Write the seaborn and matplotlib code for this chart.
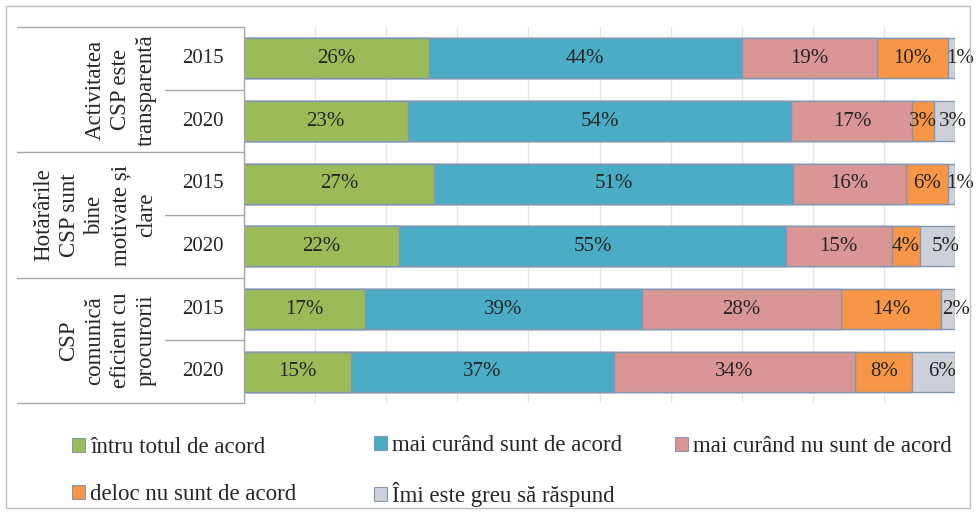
import numpy as np
import pandas as pd
import matplotlib
matplotlib.use("Agg")
import matplotlib.pyplot as plt
import matplotlib.transforms as mtransforms
from matplotlib.patches import Patch, Rectangle
import seaborn as sns

# data (one value per bar, top to bottom)
groups = ["Activitatea\nCSP este\ntransparentă",
          "Hotărârile\nCSP sunt\nbine\nmotivate și\nclare",
          "CSP\ncomunică\neficient cu\nprocurorii"]
years = ["2015", "2020"]
categories = ["întru totul de acord", "mai curând sunt de acord",
              "mai curând nu sunt de acord", "deloc nu sunt de acord",
              "Îmi este greu să răspund"]
acord_total = [26, 23, 27, 22, 17, 15]
acord_mai = [44, 54, 51, 55, 39, 37]
nu_mai = [19, 17, 16, 15, 28, 34]
deloc = [10, 3, 6, 4, 14, 8]
greu = [1, 3, 1, 5, 2, 6]

colors = ["#9BBB59", "#4BACC6", "#DA9694", "#F79646", "#CDD0D8"]
edge = "#8497B0"
txt = "#262626"

sns.set_style("white")
plt.rcParams["font.family"] = ["Liberation Serif", "DejaVu Serif"]

rows = [g.replace("\n", " ") + " " + y for g in groups for y in years]
values = np.array([acord_total, acord_mai, nu_mai, deloc, greu]).T
share = values / values.sum(axis=1, keepdims=True)  # 100% stacked
cum = share.cumsum(axis=1)

fig = plt.figure(figsize=(9.76, 5.14), dpi=100)
ax = fig.add_axes([244 / 976, 1 - 403 / 514, 711 / 976, 376 / 514])

# stacked bars: draw cumulative totals from longest to shortest
for k in reversed(range(len(categories))):
    df = pd.DataFrame({"row": rows, "val": cum[:, k]})
    sns.barplot(data=df, x="val", y="row", orient="h", color=colors[k],
                saturation=1, width=0.64, edgecolor=edge, linewidth=1,
                errorbar=None, ax=ax)

# value labels (last segment's label nudged right, like the original)
for i in range(len(rows)):
    for k in range(len(categories)):
        x = cum[i, k] - share[i, k] / 2
        if k == len(categories) - 1:
            x += 0.012
        ax.text(x, i, f"{values[i, k]}%", ha="center", va="center",
                fontsize=15, color=txt)

ax.set_xticks(np.arange(0, 1.01, 0.1))
ax.set_yticks([])
ax.set_xlabel("")
ax.set_ylabel("")
ax.xaxis.grid(True, color="#E6E6E6", lw=1)
ax.set_axisbelow(True)
ax.tick_params(length=0, labelbottom=False)
for s in ["top", "right", "bottom"]:
    ax.spines[s].set_visible(False)
ax.spines["left"].set_color("#A6A6A6")
ax.spines["left"].set_linewidth(1)

# category table on the left
trans = mtransforms.blended_transform_factory(fig.transFigure, ax.transData)
for y in [-0.5, 1.5, 3.5, 5.5]:
    ax.plot([17 / 976, 243 / 976], [y, y], transform=trans, color="#A6A6A6",
            lw=1, clip_on=False)
for y in [0.5, 2.5, 4.5]:
    ax.plot([165 / 976, 243 / 976], [y, y], transform=trans, color="#A6A6A6",
            lw=1, clip_on=False)
for i, r in enumerate(rows):
    ax.text(203 / 976, i, years[i % 2], transform=trans, ha="center",
            va="center", fontsize=15, color=txt)
for g, name in enumerate(groups):
    ax.text(157 / 976, 2 * g + 0.5, name, transform=trans, rotation=90,
            ha="right", va="center", multialignment="center",
            linespacing=1.3, fontsize=16.5, color=txt)
ax.set_xlim(0, 1)
ax.set_ylim(5.5, -0.5)

# legend, laid out row by row in three columns
handles = [Patch(facecolor=c, edgecolor=edge, lw=0.8) for c in colors]
col_x = [72, 374, 675]
col_items = [[0, 3], [1, 4], [2]]
for cx, items in zip(col_x, col_items):
    cy = 471 if len(items) == 2 else 447
    fig.legend([handles[j] for j in items], [categories[j] for j in items],
               loc="center left", bbox_to_anchor=(cx / 976, 1 - cy / 514),
               frameon=False, fontsize=16.5, handlelength=0.55,
               handleheight=0.55, handletextpad=0.25, labelspacing=1.15,
               borderpad=0, borderaxespad=0, labelcolor=txt)

# outer frame
fig.add_artist(Rectangle((6 / 976, 6 / 514), 964 / 976, 502 / 514,
                         transform=fig.transFigure, fill=False,
                         edgecolor="#BFBFBF", lw=1))

fig.savefig("out.png", dpi=100)
